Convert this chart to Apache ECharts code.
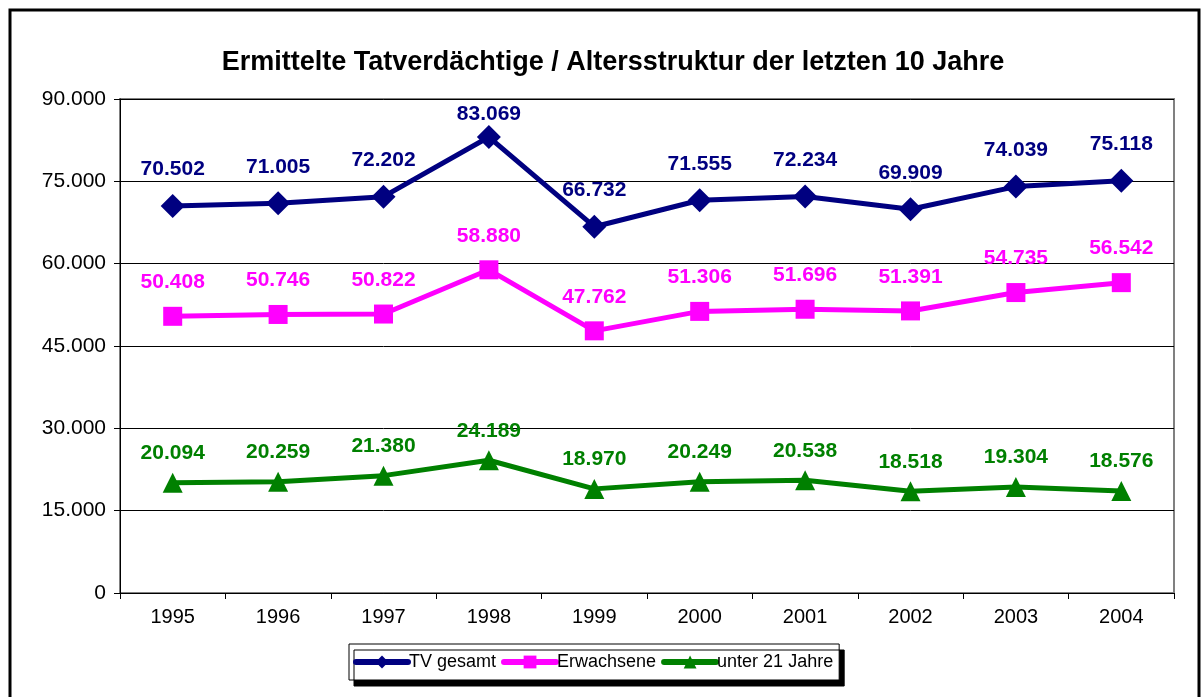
<!DOCTYPE html>
<html>
<head>
<meta charset="utf-8">
<script src="https://cdn.jsdelivr.net/npm/echarts@6/dist/echarts.min.js"></script>
<style>
  html, body { margin: 0; padding: 0; background: #fff; }
  #chart { width: 1202px; height: 697px; }
</style>
</head>
<body>
<div id="chart"></div>
<script>
// Daten
const years = ['1995', '1996', '1997', '1998', '1999', '2000', '2001', '2002', '2003', '2004'];
const tvGesamt = [70502, 71005, 72202, 83069, 66732, 71555, 72234, 69909, 74039, 75118];
const erwachsene = [50408, 50746, 50822, 58880, 47762, 51306, 51696, 51391, 54735, 56542];
const unter21 = [20094, 20259, 21380, 24189, 18970, 20249, 20538, 18518, 19304, 18576];

// 1.234 Format
const fmt = (v) => String(v).replace(/\B(?=(\d{3})+(?!\d))/g, '.');

const font = 'Arial, "Liberation Sans", sans-serif';

const makeSeries = (name, data, color, symbol, size, dist) => ({
  name: name,
  type: 'line',
  // Label am Maximum näher an den Punkt, sonst ragt es über den Rand
  data: data.map((v) => (v > 80000 ? { value: v, label: { distance: 0 } } : v)),
  symbol: symbol,
  symbolSize: size,
  lineStyle: { color: color, width: 5 },
  itemStyle: { color: color },
  label: {
    show: true,
    position: 'top',
    distance: dist,
    color: color,
    fontFamily: font,
    fontWeight: 'bold',
    fontSize: 21,
    formatter: (p) => fmt(p.value),
  },
  animation: false,
});

const myChart = echarts.init(document.getElementById('chart'));

const option = {
  backgroundColor: '#fff',
  title: {
    text: 'Ermittelte Tatverdächtige / Altersstruktur der letzten 10 Jahre',
    left: 608,
    textAlign: 'center',
    top: 44,
    textStyle: { fontFamily: font, fontWeight: 'bold', fontSize: 27, color: '#000' },
  },
  graphic: [
    {
      type: 'rect',
      shape: { x: 10, y: 10, width: 1189, height: 720 },
      style: { fill: 'none', stroke: '#000', lineWidth: 3 },
      silent: true,
    },
    {
      type: 'rect',
      shape: { x: 120, y: 99, width: 1054, height: 494 },
      style: { fill: 'none', stroke: '#808080', lineWidth: 2 },
      silent: true,
      z: 0,
    },
  ],
  legend: {
    bottom: 17,
    left: 349,
    itemWidth: 52,
    itemHeight: 16,
    itemGap: 5,
    padding: [9, 6, 9, 4],
    borderColor: '#000',
    borderWidth: 1,
    backgroundColor: '#fff',
    shadowColor: '#000',
    shadowBlur: 0,
    shadowOffsetX: 5,
    shadowOffsetY: 6,
    lineStyle: { width: 6, cap: 'round' },
    textStyle: { fontFamily: font, fontSize: 18, color: '#000', padding: [0, 0, 0, -4] },
    data: ['TV gesamt', 'Erwachsene', 'unter 21 Jahre'],
  },
  grid: {
    left: 120,
    right: 28,
    top: 99,
    bottom: 104,
  },
  xAxis: {
    type: 'category',
    data: years,
    boundaryGap: true,
    axisLine: { lineStyle: { color: '#000', width: 1 } },
    axisTick: { show: true, length: 6, lineStyle: { color: '#000' } },
    axisLabel: { fontFamily: font, fontSize: 20, color: '#000', margin: 14 },
  },
  yAxis: {
    type: 'value',
    min: 0,
    max: 90000,
    interval: 15000,
    axisLine: { show: true, lineStyle: { color: '#000', width: 1 } },
    axisTick: { show: true, length: 6, inside: false, lineStyle: { color: '#000' } },
    splitLine: { show: true, lineStyle: { color: '#000', width: 1 } },
    axisLabel: {
      fontFamily: font,
      fontSize: 21,
      color: '#000',
      margin: 14,
      formatter: (v) => fmt(v),
    },
  },
  series: [
    makeSeries('TV gesamt', tvGesamt, '#000080', 'diamond', 24, 14),
    makeSeries('Erwachsene', erwachsene, '#FF00FF', 'rect', 19, 14),
    makeSeries('unter 21 Jahre', unter21, '#008000', 'triangle', 20, 9),
  ],
};

myChart.setOption(option);
</script>
</body>
</html>
